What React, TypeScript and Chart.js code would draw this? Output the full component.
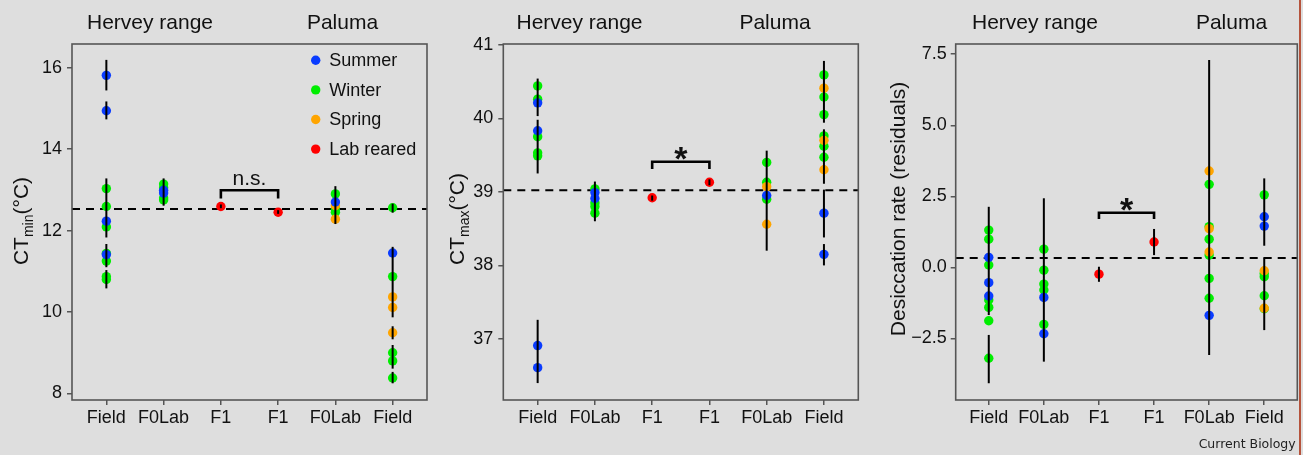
import React, { useEffect, useRef } from "react";
import { Chart, registerables } from "chart.js";

Chart.register(...registerables);

// ---------------- DATA ----------------
const categories = ["Field", "F0Lab", "F1", "F1", "F0Lab", "Field"];
const regions = ["Hervey range", "Paluma"];
const seasons = ["Summer", "Winter", "Spring", "Lab reared"];
const seasonColors = ["#0a3cff", "#00ee00", "#ffa500", "#ff0000"];
const seasonDrawOrder = [0, 2, 1, 3]; // lower = drawn on top

// Panel 1: CTmin  — points: [category (1-6), value, season index]
const ctminPoints = [
  [1, 15.81, 0], [1, 14.94, 0], [1, 13.03, 1], [1, 12.59, 1], [1, 12.23, 0], [1, 12.09, 1],
  [1, 11.44, 1], [1, 11.41, 0], [1, 11.25, 1], [1, 10.87, 1], [1, 10.8, 1],
  [2, 13.14, 1], [2, 13.05, 1], [2, 12.99, 0], [2, 12.92, 0], [2, 12.8, 1], [2, 12.75, 1],
  [3, 12.59, 3],
  [4, 12.45, 3],
  [5, 12.9, 1], [5, 12.7, 0], [5, 12.61, 2], [5, 12.53, 1], [5, 12.45, 1], [5, 12.28, 2],
  [6, 12.56, 1], [6, 11.45, 0], [6, 10.87, 1], [6, 10.37, 2], [6, 10.11, 2], [6, 9.49, 2],
  [6, 9.0, 1], [6, 8.8, 1], [6, 8.38, 1],
];
// error bars: [category, low, high]
const ctminErrorBars = [
  [1, 15.44, 16.19], [1, 14.73, 15.17], [1, 11.83, 13.28], [1, 11.1, 11.67], [1, 10.58, 11.03],
  [2, 12.61, 13.28],
  [3, 12.55, 12.64], [4, 12.41, 12.5],
  [5, 12.16, 13.09],
  [6, 12.44, 12.66], [6, 9.87, 11.6], [6, 9.33, 9.65], [6, 8.61, 9.19], [6, 8.25, 8.53],
];
const ctminMean = 12.53;
const ctminRange = [7.84, 16.58];
const ctminTicks = [8, 10, 12, 14, 16];
const ctminTickLabels = ["8", "10", "12", "14", "16"];
const ctminBracket = [3, 4, 12.99, 12.79];
const ctminBracketLabel = "n.s.";
const ctminTitle = ["CT", "min", "(°C)"];

// Panel 2: CTmax
const ctmaxPoints = [
  [1, 40.44, 1], [1, 40.26, 1], [1, 40.21, 0], [1, 39.83, 0], [1, 39.75, 1], [1, 39.53, 1],
  [1, 39.49, 1], [1, 36.91, 0], [1, 36.61, 0],
  [2, 39.04, 1], [2, 38.99, 0], [2, 38.91, 0], [2, 38.85, 1], [2, 38.8, 1], [2, 38.71, 1],
  [3, 38.92, 3],
  [4, 39.13, 3],
  [5, 39.4, 1], [5, 39.13, 1], [5, 39.07, 2], [5, 38.95, 0], [5, 38.9, 1], [5, 38.56, 2],
  [6, 40.59, 1], [6, 40.41, 2], [6, 40.29, 1], [6, 40.05, 1], [6, 39.76, 1], [6, 39.7, 2],
  [6, 39.62, 1], [6, 39.47, 1], [6, 39.3, 2], [6, 38.71, 0], [6, 38.15, 0],
];
const ctmaxErrorBars = [
  [1, 40.03, 40.54], [1, 39.25, 39.98], [1, 36.4, 37.26],
  [2, 38.6, 39.14],
  [3, 38.88, 38.95], [4, 39.09, 39.17],
  [5, 38.2, 39.56],
  [6, 39.94, 40.78], [6, 39.11, 39.85], [6, 38.38, 39.03], [6, 38.0, 38.29],
];
const ctmaxMean = 39.02;
const ctmaxRange = [36.17, 41.01];
const ctmaxTicks = [37, 38, 39, 40, 41];
const ctmaxTickLabels = ["37", "38", "39", "40", "41"];
const ctmaxBracket = [3, 4, 39.41, 39.31];
const ctmaxBracketLabel = "*";
const ctmaxTitle = ["CT", "max", "(°C)"];

// Panel 3: Desiccation rate (residuals)
const desPoints = [
  [1, 1.31, 1], [1, 0.99, 1], [1, 0.35, 0], [1, 0.08, 1], [1, -0.54, 0], [1, -1.01, 0],
  [1, -1.15, 1], [1, -1.41, 1], [1, -1.88, 1], [1, -3.2, 1],
  [2, 0.64, 1], [2, -0.1, 1], [2, -0.59, 1], [2, -0.8, 1], [2, -1.06, 0], [2, -2.01, 1], [2, -2.34, 0],
  [3, -0.24, 3],
  [4, 0.89, 3],
  [5, 3.39, 2], [5, 2.92, 1], [5, 1.43, 1], [5, 1.36, 2], [5, 0.99, 1], [5, 0.54, 2],
  [5, 0.43, 1], [5, -0.39, 1], [5, -1.09, 1], [5, -1.69, 0],
  [6, 2.55, 1], [6, 1.78, 0], [6, 1.45, 0], [6, -0.12, 2], [6, -0.22, 1], [6, -0.33, 1],
  [6, -1.0, 1], [6, -1.46, 1], [6, -1.44, 2],
];
const desErrorBars = [
  [1, -1.68, 2.13], [1, -4.08, -2.38],
  [2, -3.32, 2.43],
  [3, -0.51, 0.02], [4, 0.43, 1.35],
  [5, -3.09, 7.3],
  [6, 0.76, 3.13], [6, -2.21, 0.35],
];
const desMean = 0.33;
const desRange = [-4.67, 7.86];
const desTicks = [-2.5, 0, 2.5, 5, 7.5];
const desTickLabels = ["\u22122.5", "0.0", "2.5", "5.0", "7.5"];
const desBracket = [3, 4, 1.92, 1.7];
const desBracketLabel = "*";
const desTitle = ["Desiccation rate (residuals)"];
const sourceLabel = "Current Biology";

// ---------------- STYLE / LAYOUT ----------------
const FONT = '"Liberation Sans", Arial, Helvetica, sans-serif';
const BG = "#dedede";
const INK = "#111111";
const FRAME = "#555555";

const panels = [
  {
    points: ctminPoints, errorBars: ctminErrorBars, mean: ctminMean, range: ctminRange,
    ticks: ctminTicks, tickLabels: ctminTickLabels, bracket: ctminBracket, bracketLabel: ctminBracketLabel,
    title: ctminTitle,
    layout: {
      left: 0, width: 435, axisWidth: 72, padRight: 8, tickPad: 5,
      titleX: 28, titleY: 221, headerX: [150, 342.5], legend: true,
      labelBold: false, labelSize: 21, labelOffset: -5, footer: false,
    },
  },
  {
    points: ctmaxPoints, errorBars: ctmaxErrorBars, mean: ctmaxMean, range: ctmaxRange,
    ticks: ctmaxTicks, tickLabels: ctmaxTickLabels, bracket: ctmaxBracket, bracketLabel: ctmaxBracketLabel,
    title: ctmaxTitle,
    layout: {
      left: 435, width: 435, axisWidth: 68.3, padRight: 11.7, tickPad: 5,
      titleX: 28.5, titleY: 219, headerX: [144.5, 340], legend: false,
      labelBold: true, labelSize: 34, labelOffset: 8.5, footer: false,
    },
  },
  {
    points: desPoints, errorBars: desErrorBars, mean: desMean, range: desRange,
    ticks: desTicks, tickLabels: desTickLabels, bracket: desBracket, bracketLabel: desBracketLabel,
    title: desTitle,
    layout: {
      left: 870, width: 433, axisWidth: 85.7, padRight: 5.7, tickPad: 4,
      titleX: 34.5, titleY: 209, headerX: [165, 361.5], legend: false,
      labelBold: true, labelSize: 34, labelOffset: 8, footer: true,
    },
  },
];

function drawYTitle(ctx: CanvasRenderingContext2D, x: number, y: number, parts: string[]) {
  const mainFont = `21px ${FONT}`;
  const subFont = `14px ${FONT}`;
  ctx.save();
  ctx.translate(x, y);
  ctx.rotate(-Math.PI / 2);
  ctx.fillStyle = INK;
  ctx.textAlign = "left";
  ctx.textBaseline = "alphabetic";
  let total = 0;
  const widths = parts.map((t, i) => {
    ctx.font = i === 1 ? subFont : mainFont;
    const w = ctx.measureText(t).width;
    total += w;
    return w;
  });
  let cx = -total / 2;
  parts.forEach((t, i) => {
    ctx.font = i === 1 ? subFont : mainFont;
    ctx.fillText(t, cx, i === 1 ? 5 : 0);
    cx += widths[i];
  });
  ctx.restore();
}

function makeChart(canvas: HTMLCanvasElement, panel: any) {
  const L = panel.layout;
  const deco = {
    id: "panelDeco",
    beforeDatasetsDraw(chart: any) {
      const { ctx, chartArea, scales } = chart;
      const y = scales.y.getPixelForValue(panel.mean);
      ctx.save();
      ctx.strokeStyle = "#000";
      ctx.lineWidth = 2;
      ctx.setLineDash([8, 6]);
      ctx.beginPath();
      ctx.moveTo(chartArea.left, y);
      ctx.lineTo(chartArea.right, y);
      ctx.stroke();
      ctx.restore();
    },
    afterDatasetsDraw(chart: any) {
      const { ctx, chartArea, scales } = chart;
      const xs = scales.x;
      const ys = scales.y;
      ctx.save();
      // error bars
      ctx.strokeStyle = "#000";
      ctx.lineWidth = 2;
      ctx.lineCap = "butt";
      panel.errorBars.forEach((e: number[]) => {
        const x = xs.getPixelForValue(e[0]);
        ctx.beginPath();
        ctx.moveTo(x, ys.getPixelForValue(e[1]));
        ctx.lineTo(x, ys.getPixelForValue(e[2]));
        ctx.stroke();
      });
      // bracket
      const b = panel.bracket;
      const bx1 = xs.getPixelForValue(b[0]);
      const bx2 = xs.getPixelForValue(b[1]);
      const byTop = ys.getPixelForValue(b[2]);
      const byBot = ys.getPixelForValue(b[3]);
      ctx.lineWidth = 2.6;
      ctx.lineJoin = "miter";
      ctx.beginPath();
      ctx.moveTo(bx1, byBot);
      ctx.lineTo(bx1, byTop);
      ctx.lineTo(bx2, byTop);
      ctx.lineTo(bx2, byBot);
      ctx.stroke();
      ctx.fillStyle = INK;
      ctx.font = `${L.labelBold ? "bold " : ""}${L.labelSize}px ${FONT}`;
      ctx.textAlign = "center";
      ctx.textBaseline = "alphabetic";
      ctx.fillText(panel.bracketLabel, (bx1 + bx2) / 2, byTop + L.labelOffset);
      // frame
      ctx.strokeStyle = FRAME;
      ctx.lineWidth = 1.6;
      ctx.strokeRect(chartArea.left, chartArea.top, chartArea.right - chartArea.left, chartArea.bottom - chartArea.top);
      // legend
      if (L.legend) {
        ctx.font = `18px ${FONT}`;
        ctx.textAlign = "left";
        ctx.textBaseline = "middle";
        seasons.forEach((s, i) => {
          const cy = 60.3 + i * 29.6;
          ctx.fillStyle = seasonColors[i];
          ctx.beginPath();
          ctx.arc(315.7, cy, 4.7, 0, Math.PI * 2);
          ctx.fill();
          ctx.fillStyle = INK;
          ctx.fillText(s, 329.3, cy + 1);
        });
      }
      ctx.restore();
    },
    afterDraw(chart: any) {
      const { ctx } = chart;
      ctx.save();
      ctx.fillStyle = INK;
      ctx.font = `21px ${FONT}`;
      ctx.textAlign = "center";
      ctx.textBaseline = "alphabetic";
      regions.forEach((r, i) => ctx.fillText(r, L.headerX[i], 28.5));
      drawYTitle(ctx, L.titleX, L.titleY, panel.title);
      if (L.footer) {
        ctx.font = `12.5px "DejaVu Sans", sans-serif`;
        ctx.textAlign = "right";
        ctx.fillStyle = "#222";
        ctx.fillText(sourceLabel, 425.7, 448);
      }
      ctx.restore();
    },
  };

  const datasets = seasons.map((s, si) => ({
    label: s,
    data: panel.points.filter((p: number[]) => p[2] === si).map((p: number[]) => ({ x: p[0], y: p[1] })),
    backgroundColor: seasonColors[si],
    borderWidth: 0,
    pointRadius: 4.7,
    pointHoverRadius: 4.7,
    order: seasonDrawOrder[si],
  }));

  return new Chart(canvas, {
    type: "scatter",
    data: { datasets },
    options: {
      responsive: false,
      devicePixelRatio: 1,
      animation: false,
      events: [],
      layout: { padding: { left: 0, right: L.padRight, top: 44, bottom: 0 } },
      plugins: { legend: { display: false }, tooltip: { enabled: false } },
      scales: {
        x: {
          type: "linear",
          min: 0.4,
          max: 6.6,
          afterBuildTicks: (scale: any) => {
            scale.ticks = categories.map((_, i) => ({ value: i + 1 }));
          },
          afterFit: (scale: any) => {
            scale.height = 55;
          },
          ticks: {
            autoSkip: false,
            maxRotation: 0,
            padding: 2,
            color: INK,
            font: { family: FONT, size: 18 },
            callback: (v: any) => categories[Math.round(Number(v)) - 1] ?? "",
          },
          grid: { drawOnChartArea: false, drawTicks: true, tickLength: 5, color: FRAME, lineWidth: 1.5 },
          border: { display: false },
        },
        y: {
          type: "linear",
          min: panel.range[0],
          max: panel.range[1],
          afterBuildTicks: (scale: any) => {
            scale.ticks = panel.ticks.map((v: number) => ({ value: v }));
          },
          afterFit: (scale: any) => {
            scale.width = L.axisWidth;
          },
          ticks: {
            padding: L.tickPad,
            color: INK,
            font: { family: FONT, size: 18 },
            callback: (v: any) => {
              const i = panel.ticks.findIndex((t: number) => Math.abs(t - Number(v)) < 1e-6);
              return i >= 0 ? panel.tickLabels[i] : "";
            },
          },
          grid: { drawOnChartArea: false, drawTicks: true, tickLength: 5, color: FRAME, lineWidth: 1.5 },
          border: { display: false },
        },
      },
    },
    plugins: [deco],
  } as any);
}

export default function App() {
  const refs = useRef<(HTMLCanvasElement | null)[]>([]);
  useEffect(() => {
    const charts = panels.map((p, i) => makeChart(refs.current[i] as HTMLCanvasElement, p));
    return () => charts.forEach((c) => c.destroy());
  }, []);
  return (
    <div
      style={{
        position: "absolute",
        left: 0,
        top: 0,
        width: 1303,
        height: 455,
        background: BG,
        overflow: "hidden",
      }}
    >
      {panels.map((p, i) => (
        <canvas
          key={i}
          ref={(el) => {
            refs.current[i] = el;
          }}
          width={p.layout.width}
          height={455}
          style={{ position: "absolute", left: p.layout.left, top: 0, width: p.layout.width, height: 455 }}
        />
      ))}
      <div style={{ position: "absolute", left: 1299, top: 0, width: 2, height: 455, background: "#b5533c" }} />
    </div>
  );
}
